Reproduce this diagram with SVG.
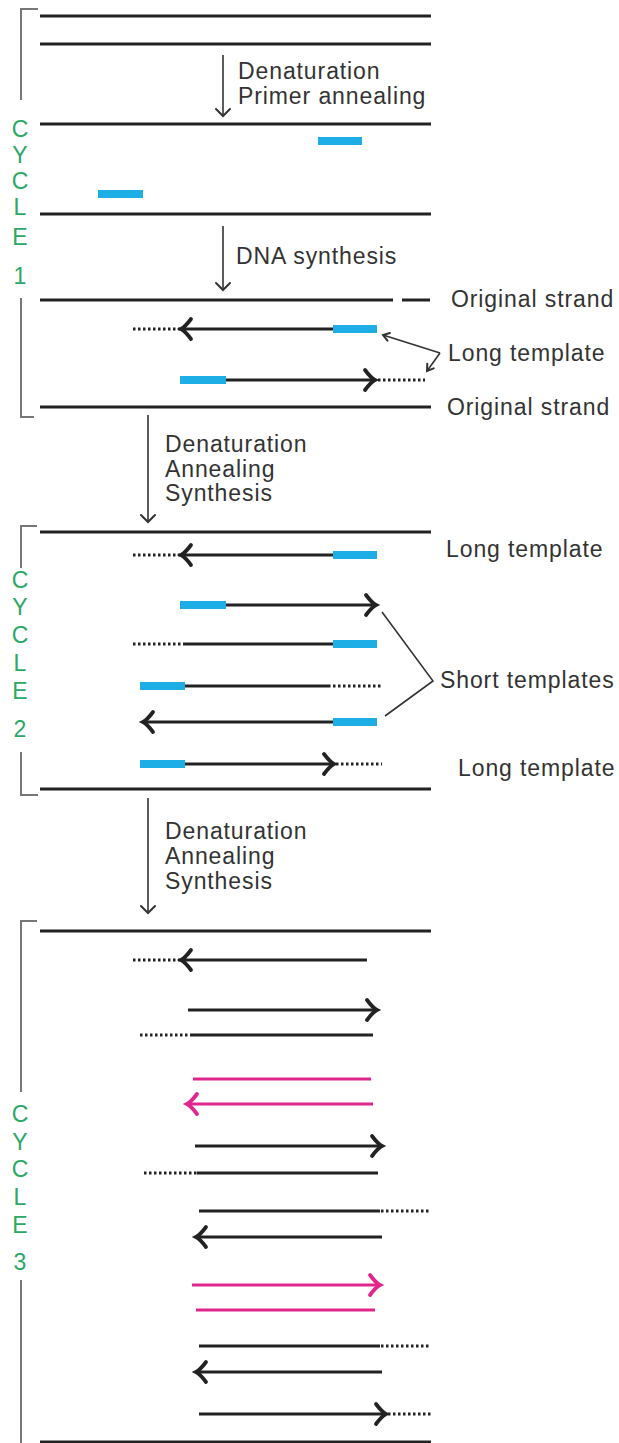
<svg xmlns="http://www.w3.org/2000/svg" xmlns:xlink="http://www.w3.org/1999/xlink" width="619" height="1443" viewBox="0 0 619 1443">
<style>
.s{stroke:#222;stroke-width:3;fill:none}
.d{stroke:#222;stroke-width:3;stroke-dasharray:2.5 2.5;fill:none}
.b{stroke:#1eaee6;stroke-width:8;fill:none}
.p{stroke:#e0268c;stroke-width:3;fill:none}
.ah{stroke:#222;stroke-width:3.8;fill:none;stroke-linecap:round}
.ahp{stroke:#e0268c;stroke-width:3.8;fill:none;stroke-linecap:round}
.br{stroke:#777;stroke-width:2;fill:none}
.pa{stroke:#333;stroke-width:1.6;fill:none}
.ph{stroke:#333;stroke-width:2;fill:none;stroke-linecap:round}
.t{font-family:"Liberation Sans",Arial,sans-serif;font-size:23px;letter-spacing:0.9px;fill:#333}
.cy{font-family:"Liberation Sans",Arial,sans-serif;font-size:23px;fill:#2aa866;text-anchor:middle}
</style>
<defs>
<path id="hL" d="M10,-10 Q4,-2 0,0 Q4,2 10,10"/>
<path id="hR" d="M-10,-10 Q-4,-2 0,0 Q-4,2 -10,10"/>
<path id="hD" d="M-7,-7 Q-2,-2 0,0 Q2,-2 7,-7"/>
</defs>

<g id="brackets">
<path class="br" d="M38,9 H21 V100"/>
<path class="br" d="M21,298 V417 H34"/>
<path class="br" d="M37,526 H21 V568"/>
<path class="br" d="M21,752 V795 H38"/>
<path class="br" d="M37,921 H21 V1092"/>
<path class="br" d="M21,1280 V1443"/>
</g>

<g id="cycle-labels">
<text class="cy" x="20" y="137">C</text>
<text class="cy" x="20" y="163">Y</text>
<text class="cy" x="20" y="189">C</text>
<text class="cy" x="20" y="215">L</text>
<text class="cy" x="20" y="245">E</text>
<text class="cy" x="20" y="284">1</text>
<text class="cy" x="20" y="588">C</text>
<text class="cy" x="20" y="615">Y</text>
<text class="cy" x="20" y="643">C</text>
<text class="cy" x="20" y="671">L</text>
<text class="cy" x="20" y="699">E</text>
<text class="cy" x="20" y="737">2</text>
<text class="cy" x="20" y="1122">C</text>
<text class="cy" x="20" y="1150">Y</text>
<text class="cy" x="20" y="1177">C</text>
<text class="cy" x="20" y="1205">L</text>
<text class="cy" x="20" y="1233">E</text>
<text class="cy" x="20" y="1270">3</text>
</g>

<g id="connectors">
<line class="pa" x1="223" y1="55" x2="223" y2="116"/>
<use href="#hD" x="223" y="116" class="ph"/>
<line class="pa" x1="223" y1="226" x2="223" y2="290"/>
<use href="#hD" x="223" y="290" class="ph"/>
<line class="pa" x1="148" y1="415" x2="148" y2="522"/>
<use href="#hD" x="148" y="522" class="ph"/>
<line class="pa" x1="148" y1="798" x2="148" y2="913"/>
<use href="#hD" x="148" y="913" class="ph"/>
<path class="pa" d="M440,353 L383,335 M440,353 L427,371"/>
<path class="ph" d="M387.5,340.6 L383,335 L389.9,333"/>
<path class="ph" d="M433.7,368.4 L427,371 L427.3,363.8"/>
<path class="pa" d="M382,612 L433,681 L385,716"/>
</g>

<g id="cycle1">
<line class="s" x1="40" y1="16" x2="431" y2="16"/>
<line class="s" x1="40" y1="44" x2="431" y2="44"/>
<text class="t" x="238" y="79">Denaturation</text>
<text class="t" x="238" y="104">Primer annealing</text>
<line class="s" x1="40" y1="124" x2="431" y2="124"/>
<line class="b" x1="318" y1="141" x2="362" y2="141"/>
<line class="b" x1="98" y1="194" x2="143" y2="194"/>
<line class="s" x1="40" y1="214" x2="431" y2="214"/>
<text class="t" x="236" y="264">DNA synthesis</text>
<line class="s" x1="40" y1="300" x2="393" y2="300"/>
<line class="s" x1="402" y1="300" x2="430" y2="300"/>
<text class="t" x="451" y="307">Original strand</text>
<line class="d" x1="133" y1="329" x2="180" y2="329"/>
<line class="s" x1="181" y1="329" x2="333" y2="329"/>
<line class="b" x1="333" y1="329" x2="377" y2="329"/>
<use href="#hL" x="181" y="329" class="ah"/>
<text class="t" x="448" y="361">Long template</text>
<line class="b" x1="180" y1="380" x2="226" y2="380"/>
<line class="s" x1="226" y1="380" x2="374" y2="380"/>
<use href="#hR" x="375" y="380" class="ah"/>
<line class="d" x1="378" y1="380" x2="425" y2="380"/>
<line class="s" x1="40" y1="407" x2="431" y2="407"/>
<text class="t" x="447" y="415">Original strand</text>
</g>

<g id="transition1">
<text class="t" x="165" y="452">Denaturation</text>
<text class="t" x="165" y="477">Annealing</text>
<text class="t" x="165" y="501">Synthesis</text>
</g>

<g id="cycle2">
<line class="s" x1="40" y1="532" x2="431" y2="532"/>
<line class="d" x1="133" y1="555" x2="180" y2="555"/>
<line class="s" x1="181" y1="555" x2="333" y2="555"/>
<line class="b" x1="333" y1="555" x2="377" y2="555"/>
<use href="#hL" x="181" y="555" class="ah"/>
<text class="t" x="446" y="557">Long template</text>
<line class="b" x1="180" y1="605" x2="226" y2="605"/>
<line class="s" x1="226" y1="605" x2="375" y2="605"/>
<use href="#hR" x="376" y="605" class="ah"/>
<line class="d" x1="133" y1="644" x2="185" y2="644"/>
<line class="s" x1="185" y1="644" x2="333" y2="644"/>
<line class="b" x1="333" y1="644" x2="377" y2="644"/>
<line class="b" x1="140" y1="686" x2="185" y2="686"/>
<line class="s" x1="185" y1="686" x2="328" y2="686"/>
<line class="d" x1="328" y1="686" x2="382" y2="686"/>
<text class="t" x="440" y="688">Short templates</text>
<line class="s" x1="143" y1="722" x2="333" y2="722"/>
<line class="b" x1="333" y1="722" x2="377" y2="722"/>
<use href="#hL" x="143" y="722" class="ah"/>
<line class="b" x1="140" y1="764" x2="185" y2="764"/>
<line class="s" x1="185" y1="764" x2="333" y2="764"/>
<use href="#hR" x="334" y="764" class="ah"/>
<line class="d" x1="336" y1="764" x2="382" y2="764"/>
<text class="t" x="458" y="776">Long template</text>
<line class="s" x1="40" y1="789" x2="431" y2="789"/>
</g>

<g id="transition2">
<text class="t" x="165" y="839">Denaturation</text>
<text class="t" x="165" y="864">Annealing</text>
<text class="t" x="165" y="889">Synthesis</text>
</g>

<g id="cycle3">
<line class="s" x1="40" y1="931" x2="431" y2="931"/>
<line class="d" x1="133" y1="960" x2="180" y2="960"/>
<line class="s" x1="181" y1="960" x2="367" y2="960"/>
<use href="#hL" x="181" y="960" class="ah"/>
<line class="s" x1="188" y1="1010" x2="376" y2="1010"/>
<use href="#hR" x="377" y="1010" class="ah"/>
<line class="d" x1="140" y1="1035" x2="190" y2="1035"/>
<line class="s" x1="190" y1="1035" x2="373" y2="1035"/>
<line class="p" x1="193" y1="1079" x2="371" y2="1079"/>
<line class="p" x1="187" y1="1104" x2="373" y2="1104"/>
<use href="#hL" x="187" y="1104" class="ahp"/>
<line class="s" x1="195" y1="1146" x2="381" y2="1146"/>
<use href="#hR" x="382" y="1146" class="ah"/>
<line class="d" x1="144" y1="1173" x2="197" y2="1173"/>
<line class="s" x1="197" y1="1173" x2="378" y2="1173"/>
<line class="s" x1="199" y1="1211" x2="380" y2="1211"/>
<line class="d" x1="381" y1="1211" x2="431" y2="1211"/>
<line class="s" x1="196" y1="1237" x2="382" y2="1237"/>
<use href="#hL" x="196" y="1237" class="ah"/>
<line class="p" x1="192" y1="1285" x2="379" y2="1285"/>
<use href="#hR" x="380" y="1285" class="ahp"/>
<line class="p" x1="196" y1="1310" x2="375" y2="1310"/>
<line class="s" x1="199" y1="1346" x2="380" y2="1346"/>
<line class="d" x1="381" y1="1346" x2="431" y2="1346"/>
<line class="s" x1="196" y1="1372" x2="382" y2="1372"/>
<use href="#hL" x="196" y="1372" class="ah"/>
<line class="s" x1="199" y1="1414" x2="385" y2="1414"/>
<use href="#hR" x="386" y="1414" class="ah"/>
<line class="d" x1="388" y1="1414" x2="431" y2="1414"/>
<line class="s" x1="40" y1="1442" x2="431" y2="1442"/>
</g>
</svg>
